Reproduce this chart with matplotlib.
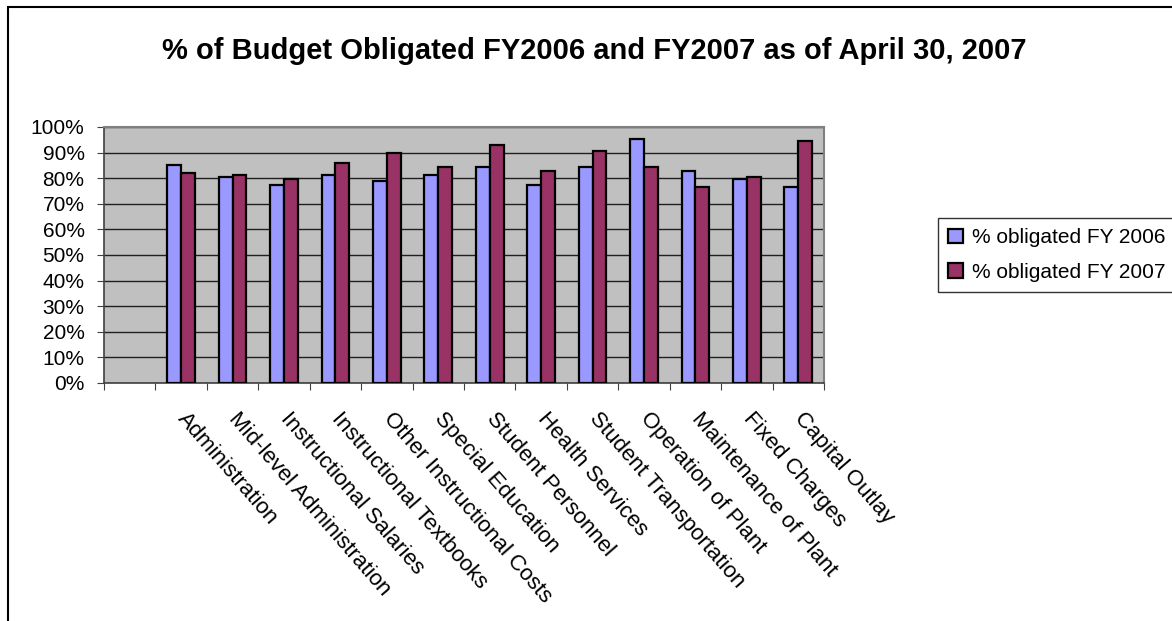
import numpy as np
import matplotlib.pyplot as plt
from matplotlib.patches import Rectangle
from matplotlib.ticker import PercentFormatter

plt.rcParams['font.family'] = ['Liberation Sans', 'DejaVu Sans']

# first slot is an empty category in the original sheet
categories = ['', 'Administration', 'Mid-level Administration', 'Instructional Salaries',
              'Instructional Textbooks', 'Other Instructional Costs', 'Special Education',
              'Student Personnel', 'Health Services', 'Student Transportation',
              'Operation of Plant', 'Maintenance of Plant', 'Fixed Charges', 'Capital Outlay']
fy2006 = [np.nan, 85.2, 80.6, 77.3, 81.2, 78.9, 81.2, 84.4, 77.3, 84.4, 95.3, 82.8, 79.7, 76.6]
fy2007 = [np.nan, 82.0, 81.2, 79.8, 85.9, 89.8, 84.4, 93.0, 82.8, 90.6, 84.4, 76.6, 80.5, 94.5]
series_names = ['% obligated FY 2006', '% obligated FY 2007']

fig = plt.figure(figsize=(11.72, 6.21), dpi=100)
ax = fig.add_axes([104/1172, 1 - 383/621, 720/1172, 256/621])
ax.set_facecolor('#C0C0C0')

x = np.arange(len(categories))
w = 0.27
ax.bar(x - w/2, fy2006, w, color='#9999FF', edgecolor='black', linewidth=1.6,
       label=series_names[0], zorder=3)
ax.bar(x + w/2, fy2007, w, color='#993366', edgecolor='black', linewidth=1.6,
       label=series_names[1], zorder=3)

ax.set_xlim(-0.5, len(categories) - 0.5)
ax.set_ylim(0, 100)
ax.set_yticks(np.arange(0, 101, 10))
ax.yaxis.set_major_formatter(PercentFormatter(decimals=0))
ax.grid(axis='y', color='#202020', linewidth=1, zorder=1)
ax.set_axisbelow(True)

# tick marks on the category boundaries, labels at the centres
ax.set_xticks(np.arange(len(categories) + 1) - 0.5)
ax.set_xticklabels([])
ax.set_xticks(x, minor=True)
ax.set_xticklabels(categories, minor=True, rotation=-49, ha='left', va='center',
                   rotation_mode='anchor', fontsize=16)
ax.tick_params(axis='x', which='minor', length=0, pad=23)
ax.tick_params(axis='x', which='major', length=5, color='#404040')
ax.tick_params(axis='y', length=5, color='#404040', labelsize=15, pad=9)

for s in ['top', 'right']:
    ax.spines[s].set_color('#808080')
    ax.spines[s].set_linewidth(1.5)
for s in ['left', 'bottom']:
    ax.spines[s].set_color('#404040')
    ax.spines[s].set_linewidth(1.2)

fig.text(594/1172, 1 - 51/621, '% of Budget Obligated FY2006 and FY2007 as of April 30, 2007',
         ha='center', va='center', fontsize=21, fontweight='bold')

leg = fig.legend(loc='center left', bbox_to_anchor=(938/1172, 1 - 255/621), fontsize=15,
                 frameon=True, fancybox=False, handlelength=0.7, handleheight=0.7,
                 handletextpad=0.45, borderpad=0.5, labelspacing=0.75, borderaxespad=0)
leg.get_frame().set_edgecolor('black')
leg.get_frame().set_linewidth(1)

# chart border (only left and top edges fall inside the picture)
fig.patches.append(Rectangle((8/1172, -0.1), 1.2, 1 - 7/621 + 0.1, transform=fig.transFigure,
                             fill=False, edgecolor='black', linewidth=1.5))

fig.savefig('out.png', dpi=100)
